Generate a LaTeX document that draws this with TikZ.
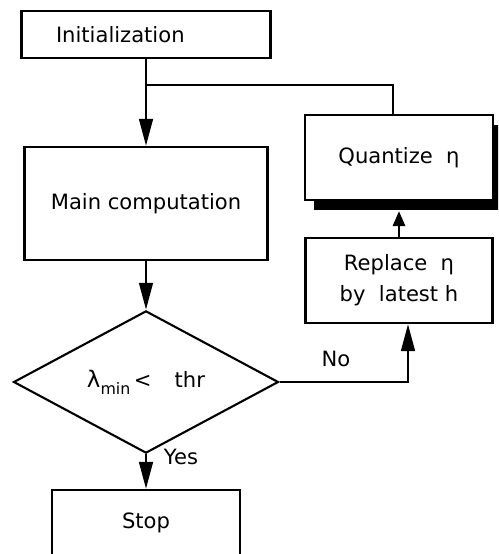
\documentclass[tikz,border=0pt]{standalone}
\usepackage{fontspec}
\setmainfont{DejaVu Sans}
\usetikzlibrary{arrows.meta,shapes.geometric,shadows}

\begin{document}
\begin{tikzpicture}[x=0.02cm,y=-0.02cm,line width=1.2pt,
  font=\fontsize{12}{14}\selectfont,
  box/.style={draw,fill=white,inner sep=0pt},
  flow/.style={line width=1.7pt,-{Triangle[length=0.54cm,width=0.27cm]}}]
\useasboundingbox (0,0) rectangle (498,554);
\clip (0,0) rectangle (498,554);
%
\node[box,minimum width=4.98cm,minimum height=0.94cm,text width=3.6cm,align=left] (init) at (146,34.5) {Initialization};
\node[box,minimum width=4.86cm,minimum height=2.26cm] (main) at (146,203.5) {Main computation};
\node[draw,diamond,minimum width=5.3cm,minimum height=1.78cm,inner sep=0pt] (dec) at (146,382)
  {{\fontsize{13}{13}\selectfont λ}\raisebox{-0.6ex}{\fontsize{9}{9}\selectfont min}\,<\hspace{1.1em}thr};
\node[box,minimum width=3.76cm,minimum height=1.32cm] (stop) at (146,523) {Stop};
\node[box,minimum width=3.76cm,minimum height=1.7cm,
  drop shadow={shadow xshift=0.18cm,shadow yshift=-0.2cm,fill=black,opacity=1}] (quant) at (399,157.5) {Quantize\ \ η};
\node[box,minimum width=3.74cm,minimum height=1.7cm,align=center,
  font=\fontsize{12}{17.5}\selectfont] (rep) at (399,280.5) {Replace\ \ η\\by\ \ latest h};
\coordinate (split) at (146,85);
%
\draw[flow] (init) -- (main);
\draw[line width=1.2pt] (split) -| ([xshift=-0.12cm]quant.north);
\draw[flow] (main) -- (dec);
\draw[flow] (dec) -- (stop);
\draw[flow] (dec.east) -| ([xshift=0.18cm]rep.south);
\draw[flow,-{Triangle[length=0.3cm,width=0.24cm]}] (rep.north) -- ([yshift=-0.2cm]quant.south);
\node (no) at (336,359) {No};
\node (yes) at (181,457) {Yes};
\end{tikzpicture}
\end{document}
